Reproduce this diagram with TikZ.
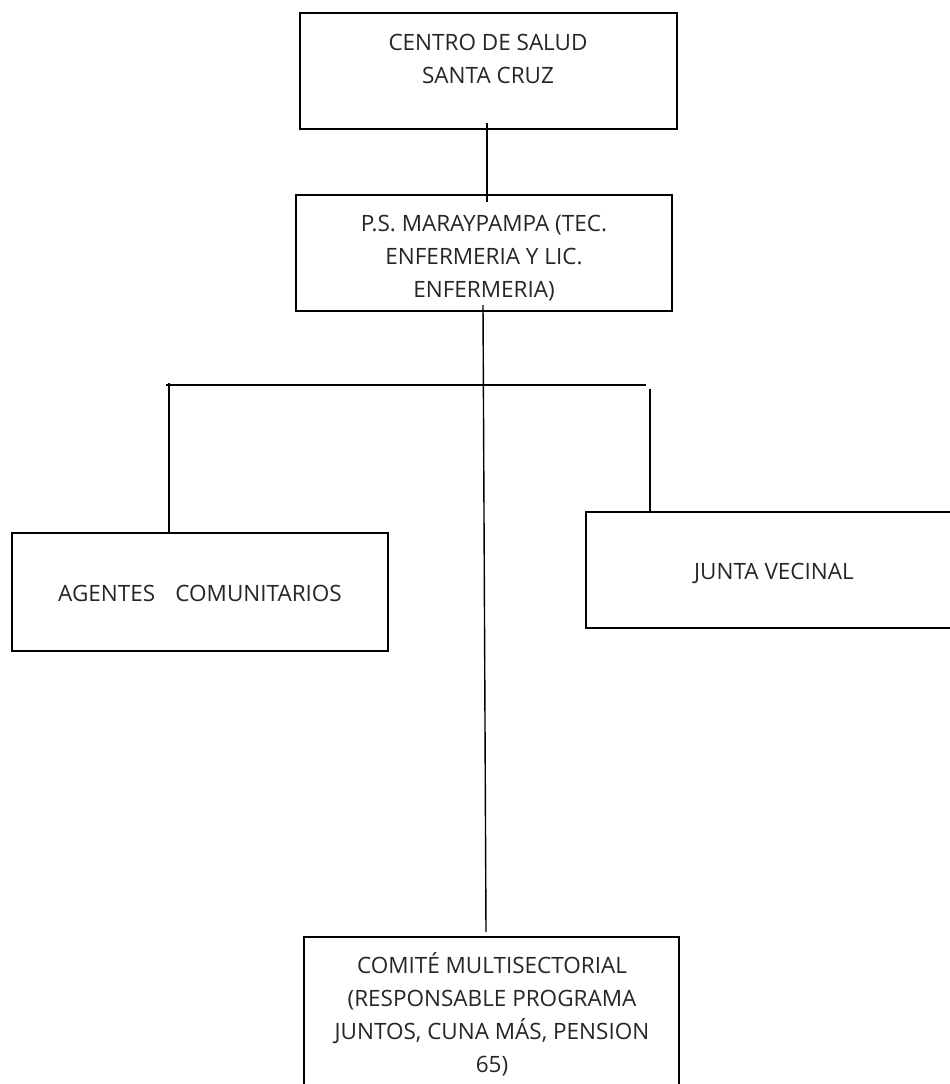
\documentclass[tikz,border=0pt]{standalone}
\usepackage{fontspec}
\setmainfont{Open Sans}
\tikzset{
  orgbox/.style={draw=black, line width=1.4pt, fill=none},
  orgtext/.style={font=\fontsize{22.5}{33}\selectfont, text=black!85, inner sep=0pt, align=center},
  conn/.style={draw=black, line width=1.4pt}
}
\begin{document}
\begin{tikzpicture}[x=1pt,y=-1pt]
\useasboundingbox (0,0) rectangle (950,1084);
\clip (0,0) rectangle (950,1084);
% boxes
\draw[orgbox] (300,13) rectangle (677,129);
\draw[orgbox] (296,195) rectangle (672,311);
\draw[orgbox] (12,533) rectangle (388,651);
\draw[orgbox] (586,512) rectangle (962,628);
\draw[orgbox] (304,937) rectangle (679,1120);
% box anchors
\coordinate (b1bot) at (487,123);
\coordinate (b2top) at (487,202);
\coordinate (b2bot) at (483,305);
\coordinate (b5top) at (486,932);
\coordinate (hl) at (166,385);
\coordinate (hr) at (646,385);
\coordinate (lt) at (169,383);
\coordinate (b3top) at (169,532);
\coordinate (rt) at (650,389);
\coordinate (b4top) at (650,513);
% texts
\node[orgtext, anchor=north] (t1) at (488,34) {CENTRO DE SALUD\\SANTA CRUZ};
\node[orgtext, anchor=north] (t2) at (484,215) {P.S. MARAYPAMPA (TEC.\\ENFERMERIA Y LIC.\\ENFERMERIA)};
\node[orgtext, anchor=base] (t3) at (200,601) {AGENTES\hspace{0.9em}COMUNITARIOS};
\node[orgtext, anchor=base] (t4) at (774,579) {JUNTA VECINAL};
\node[orgtext, anchor=north] (t5) at (492,952) {COMITÉ MULTISECTORIAL\\(RESPONSABLE PROGRAMA\\JUNTOS, CUNA MÁS, PENSION\\65)};
% connectors
\draw[conn] (b1bot) -- (b2top);
\draw[conn] (b2bot) -- (b5top);
\draw[conn] (hl) -- (hr);
\draw[conn] (lt) -- (b3top);
\draw[conn] (rt) -- (b4top);
\end{tikzpicture}
\end{document}
